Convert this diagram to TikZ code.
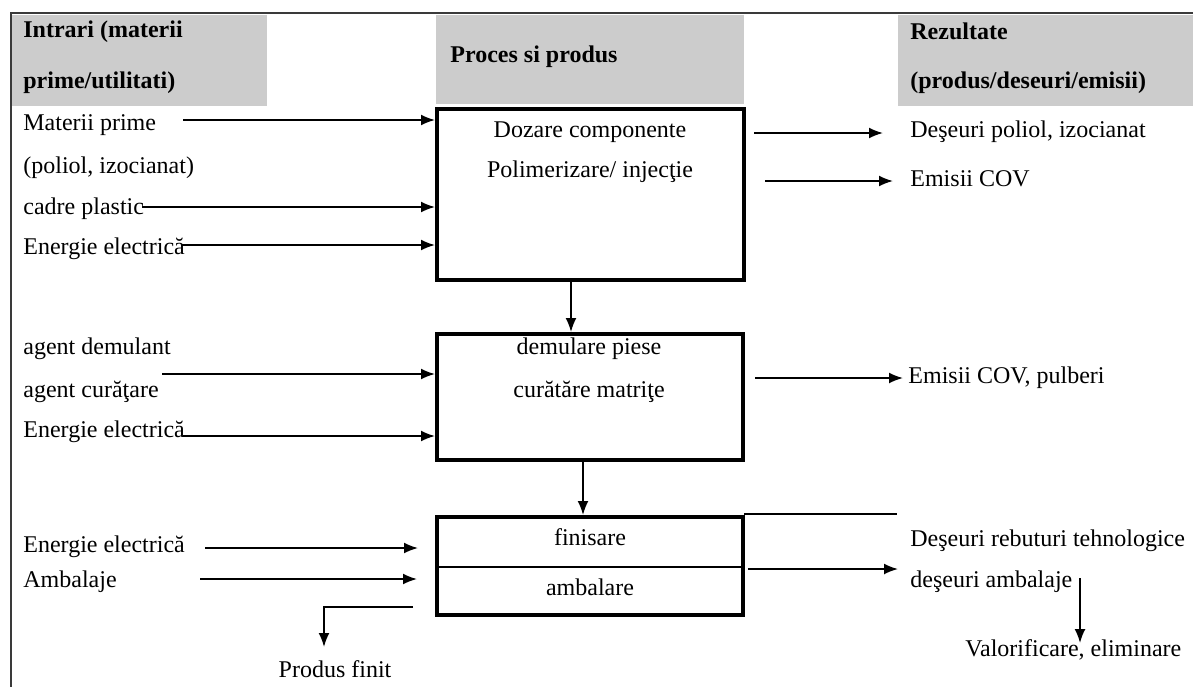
\documentclass[tikz,border=0pt]{standalone}
\usepackage{fontspec}
\setmainfont{Liberation Serif}
\usetikzlibrary{arrows.meta}
\definecolor{hdr}{HTML}{CCCCCC}
\definecolor{frame}{HTML}{3A3A3A}
\begin{document}
\begin{tikzpicture}[x=0.5pt,y=-0.5pt,
  every node/.style={font=\fontsize{12}{14}\selectfont, inner sep=0pt, text height=0.8em, text depth=0.2em},
  lbl/.style={anchor=west},
  hdrbox/.style={fill=hdr, draw=none, minimum height=45.5pt},
  hdrtxt/.style={anchor=west, font=\fontsize{12}{14}\selectfont\bfseries},
  procbox/.style={draw, line width=2pt, minimum width=153pt},
  conn/.style={line width=0.9pt},
  arr/.style={conn, -{Latex[length=7pt,width=5.5pt]}}]
\useasboundingbox (0,0) rectangle (1193,687);
% frame
\draw[frame, line width=1pt] (1193,13) -- (11,13) -- (11,687);
% headers
\node[hdrbox, minimum width=127.5pt] (h1) at (139.5,60.5) {};
\node[hdrbox, minimum width=154pt, minimum height=44.5pt] (h2) at (590,59.5) {};
\node[hdrbox, minimum width=147.5pt] (h3) at (1045.5,60.5) {};
\node[hdrtxt] (h1a) at (23,31) {Intrari (materii};
\node[hdrtxt] (h1b) at (23,82) {prime/utilitati)};
\node[hdrtxt] (h2a) at (450,56) {Proces si produs};
\node[hdrtxt] (h3a) at (910,33) {Rezultate};
\node[hdrtxt] (h3b) at (910,82) {(produs/deseuri/emisii)};
% process boxes
\node[procbox, minimum width=153.5pt, minimum height=85.5pt] (b1) at (590.5,194.5) {};
\node[procbox, minimum height=63pt] (b2) at (590,397) {};
\node[procbox, minimum height=49pt] (b3) at (590,566) {};
\coordinate (d3) at (590,567);
\draw[conn] (d3 -| b3.west) -- (d3 -| b3.east);
% box texts
\node (t1a) at (590,131) {Dozare componente};
\node (t1b) at (590,171) {Polimerizare/ injecţie};
\node (t2a) at (589,348) {demulare piese};
\node (t2b) at (589,391) {curătăre matriţe};
\node (t3a) at (590,539) {finisare};
\node (t3b) at (590,589) {ambalare};
% left labels
\node[lbl] (l1) at (23,124) {Materii prime};
\node[lbl] (l2) at (23,167) {(poliol, izocianat)};
\node[lbl] (l3) at (23,208) {cadre plastic};
\node[lbl] (l4) at (23,248) {Energie electrică};
\node[lbl] (l5) at (23,348) {agent demulant};
\node[lbl] (l6) at (23,391) {agent curăţare};
\node[lbl] (l7) at (23,431) {Energie electrică};
\node[lbl] (l8) at (23,546) {Energie electrică};
\node[lbl] (l9) at (23,581) {Ambalaje};
\node (pf) at (335,671) {Produs finit};
% right labels
\node[lbl] (r1) at (910,131) {Deşeuri poliol, izocianat};
\node[lbl] (r2) at (910,180) {Emisii COV};
\node[lbl] (r3) at (908,377) {Emisii COV, pulberi};
\node[lbl] (r4) at (910,540) {Deşeuri rebuturi tehnologice};
\node[lbl] (r5) at (910,581) {deşeuri ambalaje};
\node[lbl] (r6) at (965,650) {Valorificare, eliminare};
% input arrows
\coordinate (a1) at (183,120);
\coordinate (a2) at (142,207);
\coordinate (a3) at (182,245);
\coordinate (a4) at (162,374);
\coordinate (a5) at (183,436);
\draw[arr] (a1) -- (a1 -| b1.west);
\draw[arr] (a2) -- (a2 -| b1.west);
\draw[arr] (a3) -- (a3 -| b1.west);
\draw[arr] (a4) -- (a4 -| b2.west);
\draw[arr] (a5) -- (a5 -| b2.west);
\coordinate (a6) at (205,548);
\coordinate (a6e) at (418,548);
\coordinate (a7) at (200,579);
\coordinate (a7e) at (417,579);
\draw[arr] (a6) -- (a6e);
\draw[arr] (a7) -- (a7e);
% product out
\coordinate (p0) at (413,607);
\coordinate (p1) at (324,607);
\coordinate (p2) at (324,647);
\draw[arr] (p0) -- (p1) -- (p2);
% output arrows
\coordinate (o1) at (754,133);
\coordinate (o1e) at (883,133);
\coordinate (o2) at (765,181);
\coordinate (o2e) at (893,181);
\coordinate (o3) at (755,378);
\coordinate (o3e) at (903,378);
\coordinate (o4) at (744,514);
\coordinate (o4e) at (897,514);
\coordinate (o5) at (748,569);
\coordinate (o5e) at (898,569);
\draw[arr] (o1) -- (o1e);
\draw[arr] (o2) -- (o2e);
\draw[arr] (o3) -- (o3e);
\draw[conn] (o4) -- (o4e);
\draw[arr] (o5) -- (o5e);
\coordinate (v0) at (1080,578);
\coordinate (v1) at (1080,643);
\draw[arr] (v0) -- (v1);
% between boxes
\coordinate (m1) at (571,282);
\draw[arr] (m1) -- (m1 |- b2.north);
\coordinate (m2) at (583,462);
\draw[arr] (m2) -- (m2 |- b3.north);
\end{tikzpicture}
\end{document}
